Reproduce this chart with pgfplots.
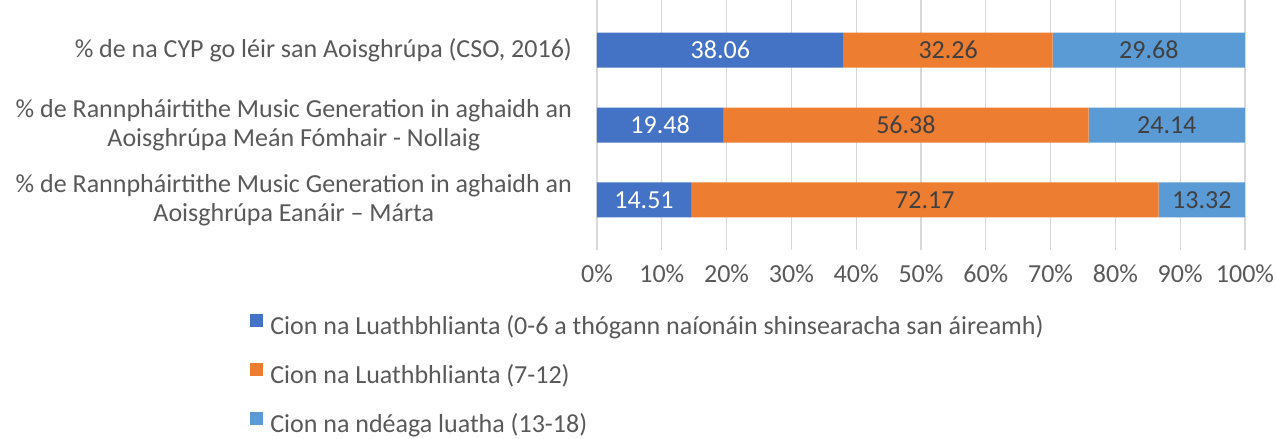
\documentclass[border=0pt]{standalone}
\usepackage{fontspec}
\setmainfont{Carlito}
\usepackage{pgfplots}
\pgfplotsset{compat=1.18}
\definecolor{ageA}{HTML}{4472C4}
\definecolor{ageB}{HTML}{ED7D31}
\definecolor{ageC}{HTML}{5B9BD5}
\definecolor{txt}{HTML}{595959}
\definecolor{lbl}{HTML}{404040}
\definecolor{gridc}{HTML}{D9D9D9}

\begin{document}
\fontsize{13}{14.5}\selectfont
\begin{tikzpicture}
\useasboundingbox (-298.5pt,-94.5pt) rectangle (339.5pt,125pt);
\begin{axis}[
    at={(0,0)}, anchor=south west,
    scale only axis, width=324pt, height=125pt,
    xbar stacked, bar width=17.5pt,
    xmin=0, xmax=100, ymin=-0.67, ymax=2.67, y dir=reverse,
    enlarge x limits=false, enlarge y limits=false,
    axis line style={draw=none},
    major tick length=0pt,
    xtick={0,10,...,100},
    xticklabels={0\%,10\%,20\%,30\%,40\%,50\%,60\%,70\%,80\%,90\%,100\%},
    ytick={0,1,2},
    yticklabels={
        {\% de na CYP go léir san Aoisghrúpa (CSO, 2016)},
        {\% de Rannpháirtithe Music Generation in aghaidh an\\Aoisghrúpa Meán Fómhair - Nollaig},
        {\% de Rannpháirtithe Music Generation in aghaidh an\\Aoisghrúpa Eanáir – Márta}},
    yticklabel style={align=center, text=txt, xshift=-8pt, font=\fontsize{13}{14.5}\selectfont},
    xticklabel style={text=txt, yshift=-3pt, font=\fontsize{13}{14}\selectfont},
    xmajorgrids, grid style={gridc, line width=0.6pt},
    point meta=x,
    visualization depends on=rawx \as \rawx,
    nodes near coords={\pgfmathprintnumber[fixed,precision=2,fixed zerofill,assume math mode=true]{\rawx}},
    nodes near coords align=center,
    every node near coord/.append style={anchor=center, font=\fontsize{13}{14}\selectfont, text=lbl},
    legend style={at={(0,0)}, anchor=north west, xshift=-173.5pt, yshift=-30.5pt,
        draw=none, fill=none, inner sep=0pt, row sep=9pt,
        font=\fontsize{13}{14}\selectfont, text=txt,
        /tikz/every odd column/.append style={column sep=1.5pt}},
    legend cell align=left,
    legend image code/.code={\fill[#1] (0pt,0pt) rectangle (6.5pt,6.5pt);},
]
\addplot[fill=ageA, draw=none, nodes near coords style={text=white}] coordinates {(38.06,0) (19.48,1) (14.51,2)};
\addplot[fill=ageB, draw=none] coordinates {(32.26,0) (56.38,1) (72.17,2)};
\addplot[fill=ageC, draw=none] coordinates {(29.68,0) (24.14,1) (13.32,2)};
\legend{Cion na Luathbhlianta (0-6 a thógann naíonáin shinsearacha san áireamh),
        Cion na Luathbhlianta (7-12),
        Cion na ndéaga luatha (13-18)}
\end{axis}
\end{tikzpicture}
\end{document}
